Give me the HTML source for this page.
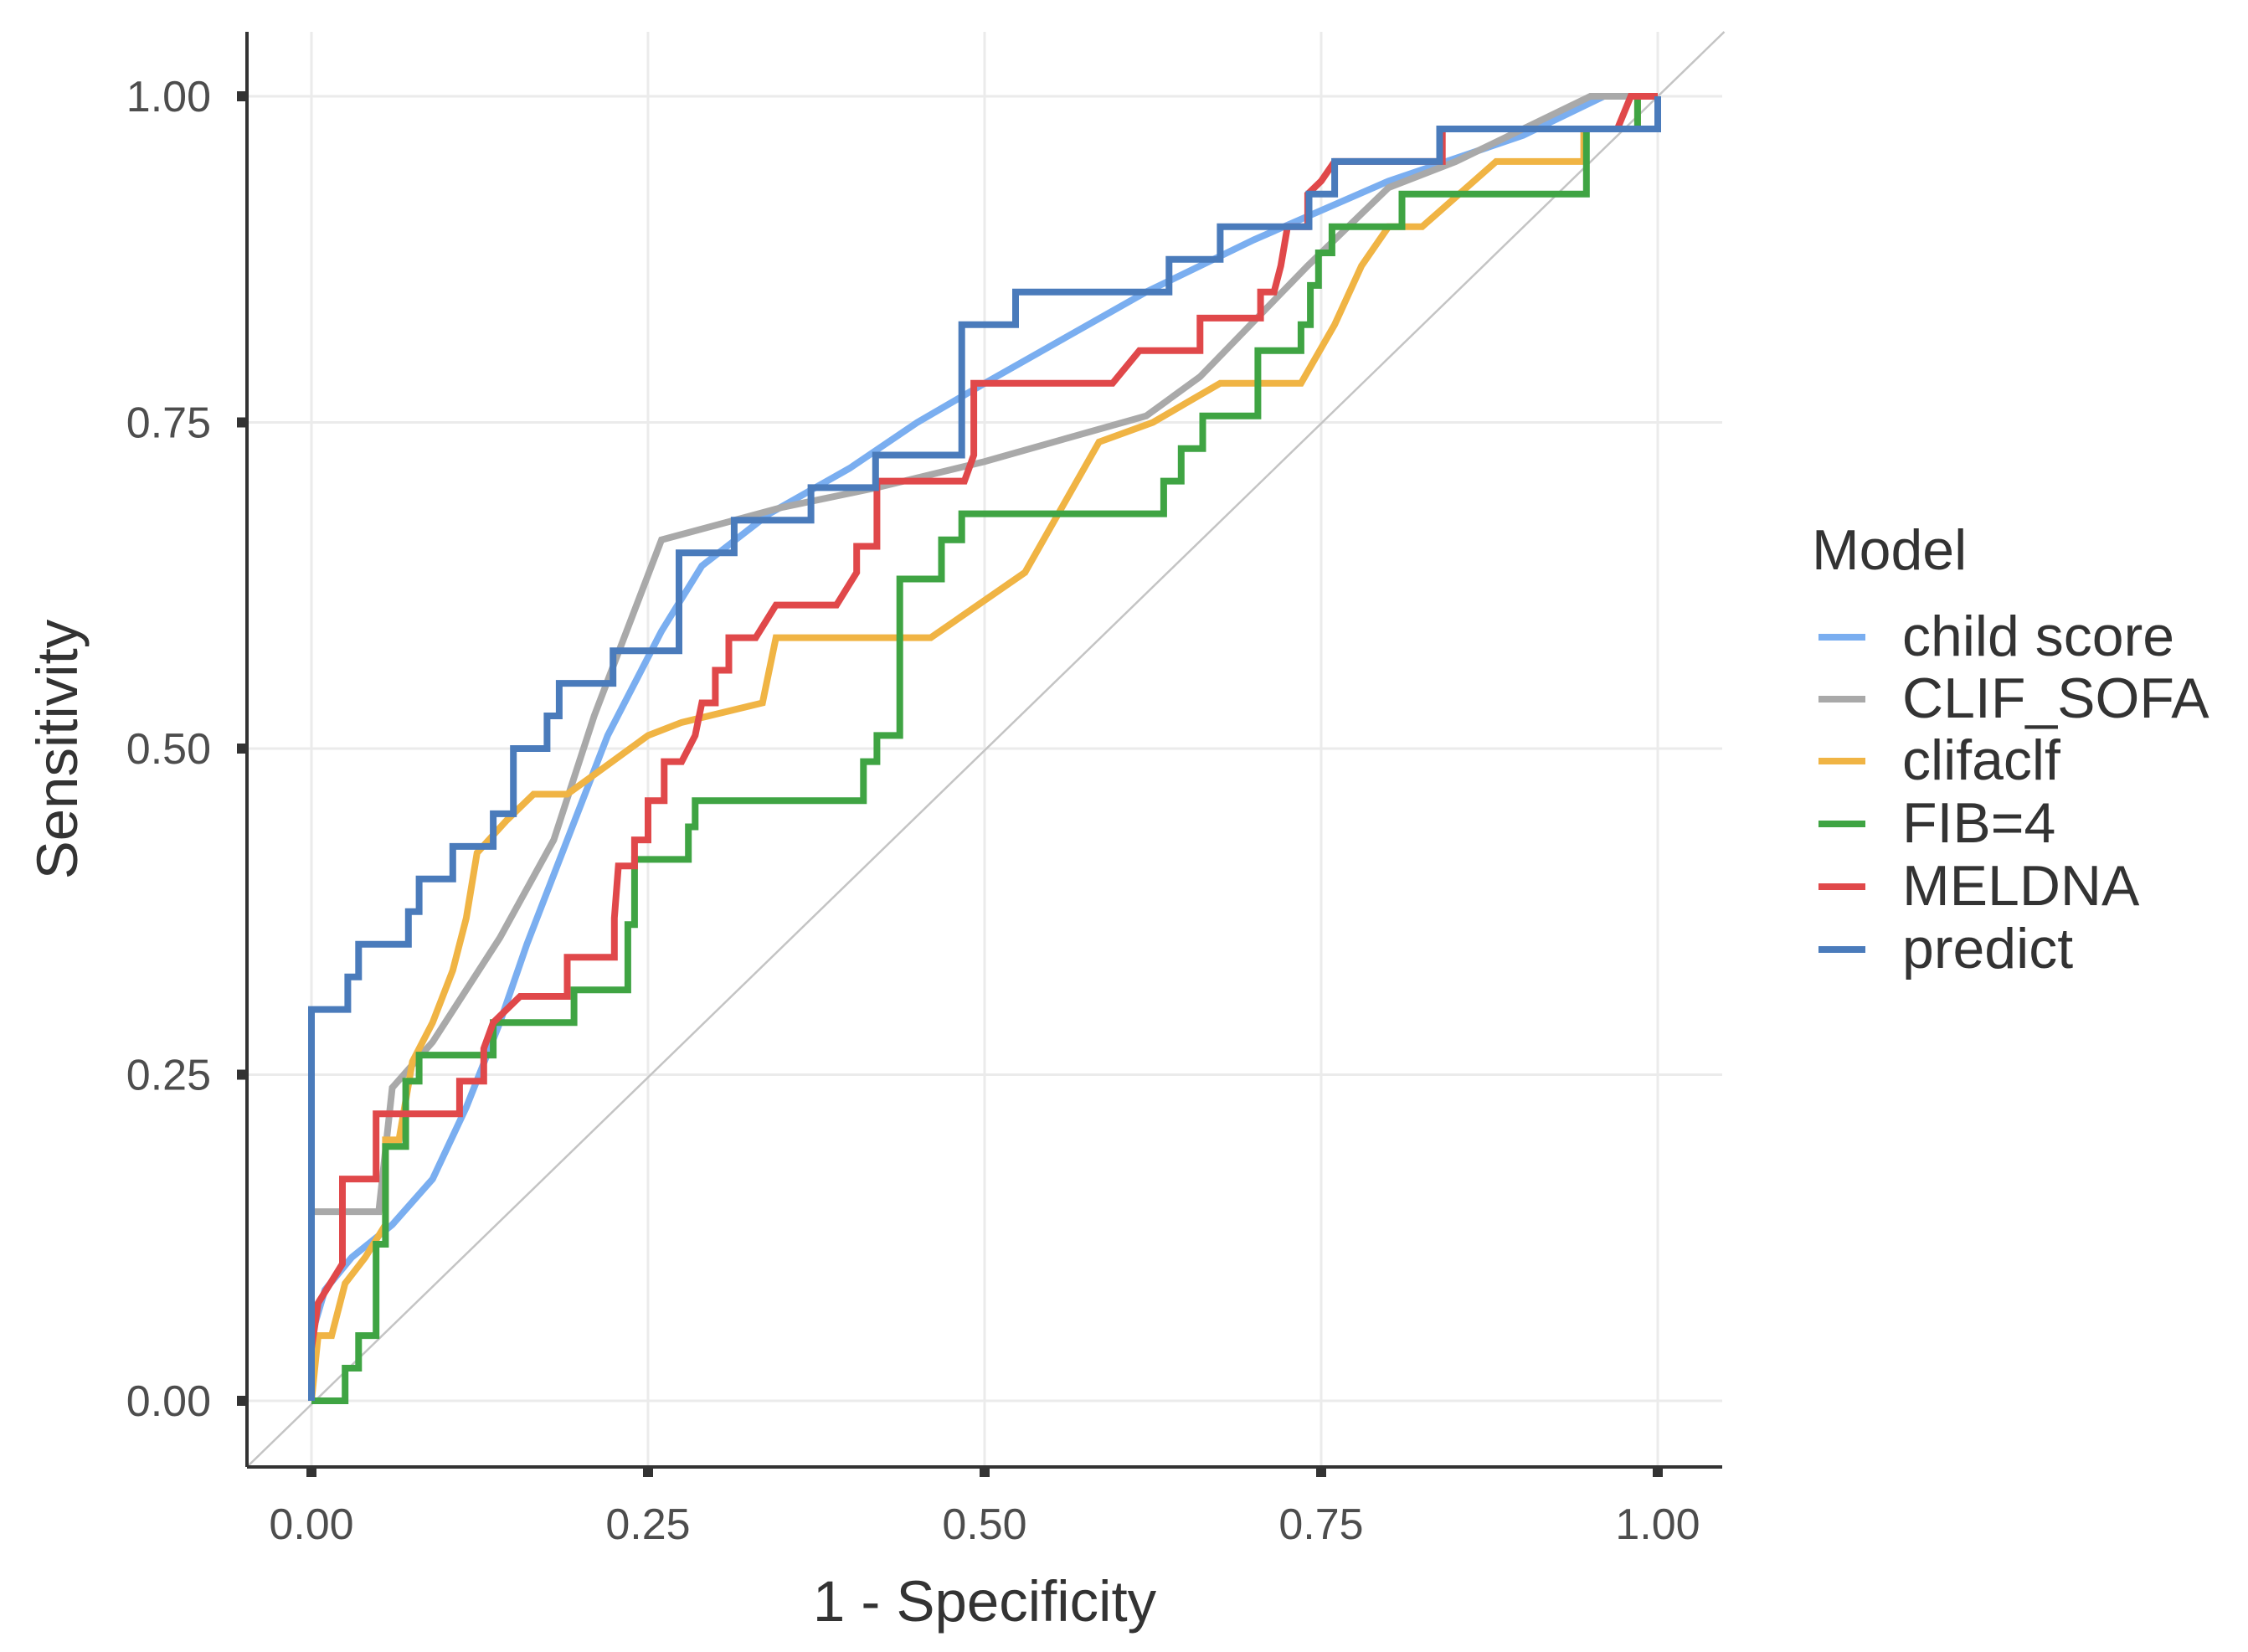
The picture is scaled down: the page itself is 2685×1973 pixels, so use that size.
<!DOCTYPE html>
<html><head><meta charset="utf-8"><style>
html,body{margin:0;padding:0;background:#fff}
svg{display:block}
text{font-family:"Liberation Sans",sans-serif}
</style></head><body>
<svg id="chart" width="2685" height="1973" viewBox="0 0 2685 1973" xmlns="http://www.w3.org/2000/svg">
<g id="grid"></g>
<g id="diag"></g>
<g id="series"></g>
<g id="axes"></g>
<text x="1176" y="1936" font-size="69" fill="#333" text-anchor="middle">1 - Specificity</text>
<text transform="translate(92,895) rotate(-90)" font-size="69" fill="#333" text-anchor="middle">Sensitivity</text>
<g id="legend">
<text x="2164" y="680" font-size="68" fill="#333">Model</text>
</g>
</svg>
<script>
const ticks = [0, 0.25, 0.5, 0.75, 1];
const tickLabels = ["0.00", "0.25", "0.50", "0.75", "1.00"];
const models = ["child score", "CLIF_SOFA", "clifaclf", "FIB=4", "MELDNA", "predict"];
const colors = ["#7aaef0", "#a9a9a9", "#f0b444", "#3fa443", "#e0484a", "#4a7bbb"];
const childFpr = [0,0,0.01,0.03,0.06,0.09,0.115,0.14,0.16,0.19,0.22,0.26,0.29,0.34,0.4,0.45,0.5,0.56,0.62,0.7,0.8,0.9,0.96,1];
const childTpr = [0,0.05,0.085,0.11,0.135,0.17,0.225,0.29,0.35,0.43,0.51,0.59,0.64,0.68,0.715,0.75,0.78,0.815,0.85,0.89,0.935,0.97,1,1];
const sofaFpr = [0,0,0.05,0.06,0.09,0.14,0.18,0.21,0.26,0.35,0.42,0.5,0.62,0.66,0.74,0.8,0.85,0.95,1];
const sofaTpr = [0,0.145,0.145,0.24,0.275,0.355,0.43,0.525,0.66,0.685,0.7,0.72,0.755,0.785,0.87,0.93,0.95,1,1];
const aclfFpr = [0,0.005,0.015,0.025,0.04,0.055,0.055,0.065,0.075,0.09,0.105,0.115,0.123,0.145,0.165,0.19,0.21,0.25,0.275,0.335,0.345,0.46,0.53,0.585,0.625,0.65,0.675,0.735,0.76,0.78,0.8,0.825,0.88,0.945,0.945,0.985,0.985,1];
const aclfTpr = [0,0.05,0.05,0.09,0.11,0.135,0.2,0.2,0.26,0.29,0.33,0.37,0.42,0.445,0.465,0.465,0.48,0.51,0.52,0.535,0.585,0.585,0.635,0.735,0.75,0.765,0.78,0.78,0.825,0.87,0.9,0.9,0.95,0.95,0.975,0.975,1,1];
const fibFpr = [0,0.025,0.025,0.035,0.035,0.048,0.048,0.055,0.055,0.07,0.07,0.08,0.08,0.135,0.135,0.195,0.195,0.235,0.235,0.24,0.24,0.28,0.28,0.285,0.285,0.41,0.41,0.42,0.42,0.437,0.437,0.468,0.468,0.483,0.483,0.633,0.633,0.646,0.646,0.662,0.662,0.703,0.703,0.735,0.735,0.742,0.742,0.748,0.748,0.758,0.758,0.81,0.81,0.947,0.947,0.985,0.985,1];
const fibTpr = [0,0,0.025,0.025,0.05,0.05,0.12,0.12,0.195,0.195,0.245,0.245,0.265,0.265,0.29,0.29,0.315,0.315,0.365,0.365,0.415,0.415,0.44,0.44,0.46,0.46,0.49,0.49,0.51,0.51,0.63,0.63,0.66,0.66,0.68,0.68,0.705,0.705,0.73,0.73,0.755,0.755,0.805,0.805,0.825,0.825,0.855,0.855,0.88,0.88,0.9,0.9,0.925,0.925,0.975,0.975,1,1];
const meldFpr = [0,0.005,0.023,0.023,0.048,0.048,0.11,0.11,0.128,0.128,0.135,0.155,0.19,0.19,0.225,0.225,0.228,0.24,0.24,0.25,0.25,0.262,0.262,0.275,0.285,0.29,0.3,0.3,0.31,0.31,0.33,0.345,0.39,0.405,0.405,0.42,0.42,0.485,0.492,0.492,0.595,0.615,0.66,0.66,0.705,0.705,0.715,0.72,0.725,0.74,0.74,0.75,0.76,0.84,0.84,0.97,0.98,1];
const meldTpr = [0.04,0.075,0.105,0.17,0.17,0.22,0.22,0.245,0.245,0.27,0.29,0.31,0.31,0.34,0.34,0.37,0.41,0.41,0.43,0.43,0.46,0.46,0.49,0.49,0.51,0.535,0.535,0.56,0.56,0.585,0.585,0.61,0.61,0.635,0.655,0.655,0.705,0.705,0.725,0.78,0.78,0.805,0.805,0.83,0.83,0.85,0.85,0.87,0.9,0.9,0.925,0.935,0.95,0.95,0.975,0.975,1,1];
const predFpr = [0,0,0.027,0.027,0.035,0.035,0.072,0.072,0.08,0.08,0.105,0.105,0.135,0.135,0.15,0.15,0.175,0.175,0.184,0.184,0.224,0.224,0.273,0.273,0.314,0.314,0.371,0.371,0.419,0.419,0.483,0.483,0.523,0.523,0.637,0.637,0.675,0.675,0.741,0.741,0.76,0.76,0.838,0.838,1,1];
const predTpr = [0,0.3,0.3,0.325,0.325,0.35,0.35,0.375,0.375,0.4,0.4,0.425,0.425,0.45,0.45,0.5,0.5,0.525,0.525,0.55,0.55,0.575,0.575,0.65,0.65,0.675,0.675,0.7,0.7,0.725,0.725,0.825,0.825,0.85,0.85,0.875,0.875,0.9,0.9,0.925,0.925,0.95,0.95,0.975,0.975,1];
const seriesFpr = [childFpr, sofaFpr, aclfFpr, fibFpr, meldFpr, predFpr];
const seriesTpr = [childTpr, sofaTpr, aclfTpr, fibTpr, meldTpr, predTpr];

const NS = "http://www.w3.org/2000/svg";
const X0 = 372, XS = 1608, Y0 = 1673, YS = 1558;
const PL = 295, PR = 2057, PT = 38, PB = 1752;
function sx(v){ return X0 + v * XS; }
function sy(v){ return Y0 - v * YS; }
function mk(tag, attrs, parent){
  const e = document.createElementNS(NS, tag);
  for (const k in attrs) e.setAttribute(k, attrs[k]);
  parent.appendChild(e);
  return e;
}
const grid = document.getElementById('grid');
ticks.forEach((t, i) => {
  const v = mk('line', {x1: sx(t), x2: sx(t), y1: PT, y2: PB, stroke: '#ebebeb', 'stroke-width': 3}, grid);
  
  
  const h = mk('line', {x1: PL, x2: PR, y1: sy(t), y2: sy(t), stroke: '#ebebeb', 'stroke-width': 3}, grid);
  
  
});
const diag = document.getElementById('diag');
const dl = mk('line', {x1: PL, y1: PB, x2: sx((sy(0) - PT) / YS), y2: PT, stroke: '#c4c4c4', 'stroke-width': 2.5}, diag);



const sg = document.getElementById('series');
models.forEach((m, i) => {
  const pts = seriesFpr[i].map((f, j) => sx(f).toFixed(1) + ',' + sy(seriesTpr[i][j]).toFixed(1)).join(' ');
  const p = mk('polyline', {points: pts, fill: 'none', stroke: colors[i], 'stroke-width': 8, 'stroke-linejoin': 'miter'}, sg);
  
  
});

const ax = document.getElementById('axes');
const xa = mk('line', {x1: PL, x2: PR, y1: PB, y2: PB, stroke: '#333', 'stroke-width': 4}, ax);


const ya = mk('line', {x1: PL, x2: PL, y1: PT, y2: PB, stroke: '#333', 'stroke-width': 4}, ax);


ticks.forEach((t, i) => {
  const xt = mk('rect', {x: sx(t) - 6, y: PB, width: 12, height: 12, fill: '#333'}, ax);
  
  
  const xl = mk('text', {x: sx(t), y: 1838, 'font-size': 52, fill: '#4d4d4d', 'text-anchor': 'middle'}, ax);
  xl.textContent = tickLabels[i];
  
  
  const yt = mk('rect', {x: PL - 12, y: sy(t) - 6, width: 12, height: 12, fill: '#333'}, ax);
  
  
  const yl = mk('text', {x: 252, y: sy(t) + 18, 'font-size': 52, fill: '#4d4d4d', 'text-anchor': 'end'}, ax);
  yl.textContent = tickLabels[i];
  
  
});

const lg = document.getElementById('legend');
const baseY = [783, 857, 931, 1006, 1081, 1156];
models.forEach((m, i) => {
  const k = mk('line', {x1: 2172, x2: 2228, y1: baseY[i] - 22, y2: baseY[i] - 22, stroke: colors[i], 'stroke-width': 8}, lg);
  
  
  const t = mk('text', {x: 2272, y: baseY[i], 'font-size': 68, fill: '#333'}, lg);
  t.textContent = m;
  
  
});
</script>
</body></html>
